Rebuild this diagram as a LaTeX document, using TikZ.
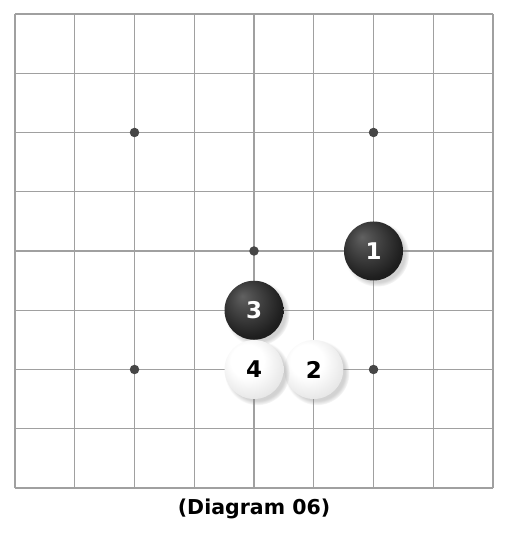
\documentclass[tikz,border=0pt]{standalone}
\usepackage{fontspec}
\setmainfont{DejaVu Sans}
\usetikzlibrary{shadows}
\pgfdeclareradialshading{blackstone}{\pgfpoint{-10bp}{12bp}}{color(0bp)=(black!62);color(8bp)=(black!70);color(28bp)=(black!88);color(50bp)=(black!94)}
\pgfdeclareradialshading{whitestone}{\pgfpoint{-8bp}{10bp}}{color(0bp)=(white);color(14bp)=(white);color(32bp)=(black!11);color(50bp)=(black!28)}
\definecolor{linegray}{RGB}{160,160,160}
\definecolor{stargray}{RGB}{70,70,70}
\begin{document}
\begin{tikzpicture}[x=59.75pt,y=59.25pt]
	\tikzstyle{none}=[inner sep=0pt]
	\tikzstyle{gridline}=[draw=linegray,line width=1.4pt]
	\tikzstyle{star}=[circle,fill=stargray,inner sep=0pt,minimum size=9.5pt]
	\tikzstyle{stone}=[circle,inner sep=0pt,minimum size=59pt,font=\fontsize{23}{23}\selectfont\bfseries,circular drop shadow={shadow xshift=3pt,shadow yshift=-3pt,opacity=0.35}]
	\tikzstyle{blackstone}=[style=stone,shade,shading=blackstone,text=white]
	\tikzstyle{whitestone}=[style=stone,shade,shading=whitestone,text=black]
	\tikzstyle{caption}=[inner sep=0pt,font=\fontsize{20.5}{20.5}\selectfont\bfseries]

		\fill [white] (-0.251, -0.810) rectangle (8.251, 8.236);
		\useasboundingbox (-0.251, -0.810) rectangle (8.251, 8.236);

		\foreach \i in {0,...,8} {
			\draw [style=gridline] (\i, 0) -- (\i, 8);
			\draw [style=gridline] (0, \i) -- (8, \i);
		}

		\node [style=star] (0) at (2, 6) {};
		\node [style=star] (1) at (6, 6) {};
		\node [style=star] (2) at (4, 4) {};
		\node [style=star] (3) at (2, 2) {};
		\node [style=star] (4) at (6, 2) {};

		\node [style=blackstone] (5) at (6, 4) {1};
		\node [style=whitestone] (6) at (5, 2) {2};
		\node [style=blackstone] (7) at (4, 3) {3};
		\node [style=whitestone] (8) at (4, 2) {4};

		\node [style=caption] (9) at (4, -0.355) {(Diagram 06)};

\end{tikzpicture}
\end{document}
